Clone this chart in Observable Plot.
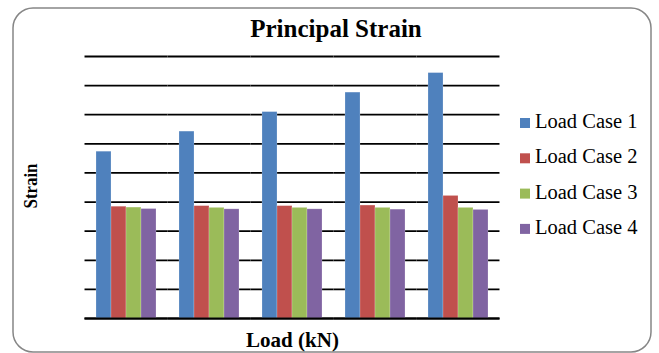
<!DOCTYPE html>
<html>
<head>
<meta charset="utf-8">
<script src="https://cdn.jsdelivr.net/npm/d3@7"></script>
<script src="https://cdn.jsdelivr.net/npm/@observablehq/plot@0.6"></script>
<style>
  html, body { margin: 0; padding: 0; background: #fff; }
  #chart svg { display: block; }
</style>
</head>
<body>
<div id="chart"></div>
<script>
// Load steps (categories along x; the chart shows no tick labels for them)
const loadSteps = ["1", "2", "3", "4", "5"];

// Series names
const seriesNames = ["Load Case 1", "Load Case 2", "Load Case 3", "Load Case 4"];

// Principal strain per load step, one array per load case (relative units)
const loadCase1 = [5.73, 6.42, 7.09, 7.76, 8.43];
const loadCase2 = [3.84, 3.86, 3.86, 3.88, 4.21];
const loadCase3 = [3.81, 3.80, 3.80, 3.80, 3.80];
const loadCase4 = [3.76, 3.75, 3.75, 3.74, 3.73];

// Gridline values on the strain axis
const gridValues = [0, 1, 2, 3, 4, 5, 6, 7, 8, 9];

const seriesColors = ["#4F81BD", "#C0504D", "#9BBB59", "#8064A2"];

const seriesValues = [loadCase1, loadCase2, loadCase3, loadCase4];
const rows = [];
loadSteps.forEach((step, i) => {
  seriesNames.forEach((name, j) => {
    rows.push({step, series: name, value: seriesValues[j][i]});
  });
});

const W = 659, H = 353;
const mLeft = 83, mRight = 157;
const padInner = 0.274, padOuter = padInner / 2;
const serif = "'Liberation Serif', 'Times New Roman', serif";

// Gridlines are repeated in each facet; stretch them across the gaps between groups
const step = (W - mLeft - mRight) / loadSteps.length;
const gapHalf = padOuter * step;

const chart = Plot.plot({
  width: W,
  height: H,
  marginLeft: mLeft,
  marginRight: mRight,
  marginTop: 56,
  marginBottom: 35,
  style: {background: "transparent", fontFamily: serif},
  fx: {domain: loadSteps, paddingInner: padInner, paddingOuter: padOuter, axis: null, label: null},
  x: {domain: seriesNames, padding: 0, axis: null, label: null},
  y: {domain: [0, 9], axis: null, label: null},
  color: {domain: seriesNames, range: seriesColors},
  marks: [
    Plot.ruleY(gridValues, {stroke: "#000", strokeWidth: 1.8, insetLeft: -gapHalf, insetRight: -gapHalf}),
    Plot.barY(rows, {
      fx: "step",
      x: "series",
      y: "value",
      fill: "series",
      stroke: "#fff",
      strokeOpacity: 0.35,
      strokeWidth: 0.6
    }),
    Plot.ruleY([0], {stroke: "#000", strokeWidth: 1.8, insetLeft: -gapHalf, insetRight: -gapHalf})
  ]
});

document.getElementById("chart").appendChild(chart);

// Chart furniture: frame, title, axis titles, legend
const svg = d3.select(chart);

svg.insert("rect", ":first-child")
  .attr("x", 13).attr("y", 8)
  .attr("width", 638).attr("height", 344)
  .attr("rx", 20).attr("ry", 20)
  .attr("fill", "#fff")
  .attr("stroke", "#868686")
  .attr("stroke-width", 1.5);

svg.append("text")
  .attr("x", 336).attr("y", 37)
  .attr("text-anchor", "middle")
  .attr("font-family", serif)
  .attr("font-weight", "bold")
  .attr("font-size", 25)
  .attr("fill", "#000")
  .text("Principal Strain");

svg.append("text")
  .attr("x", 292.5).attr("y", 346.5)
  .attr("text-anchor", "middle")
  .attr("font-family", serif)
  .attr("font-weight", "bold")
  .attr("font-size", 21)
  .attr("fill", "#000")
  .text("Load (kN)");

svg.append("text")
  .attr("transform", "translate(37,186) rotate(-90)")
  .attr("text-anchor", "middle")
  .attr("font-family", serif)
  .attr("font-weight", "bold")
  .attr("font-size", 19.5)
  .attr("textLength", 45)
  .attr("lengthAdjust", "spacingAndGlyphs")
  .attr("fill", "#000")
  .text("Strain");

const legend = svg.append("g").attr("text-anchor", "start");
seriesNames.forEach((name, i) => {
  const base = 128 + i * 35.3;
  legend.append("rect")
    .attr("x", 520).attr("y", base - 10)
    .attr("width", 10).attr("height", 10)
    .attr("fill", seriesColors[i]);
  legend.append("text")
    .attr("x", 535).attr("y", base)
    .attr("text-anchor", "start")
    .attr("font-family", serif)
    .attr("font-size", 20.5)
    .attr("fill", "#000")
    .text(name);
});
</script>
</body>
</html>
